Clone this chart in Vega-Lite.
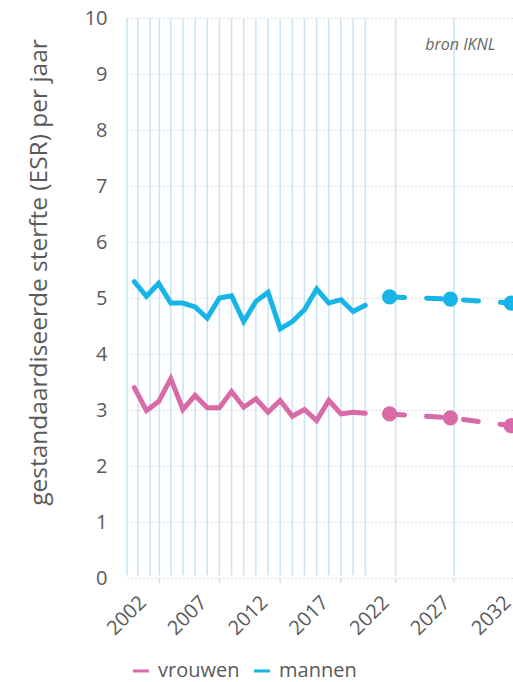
{
  "$schema": "https://vega.github.io/schema/vega-lite/v6.json",
  "width": 386,
  "height": 560,
  "autosize": {"type": "none"},
  "padding": {"left": 127, "top": 18, "right": 0, "bottom": 104},
  "background": "white",
  "config": {
    "view": {"stroke": null},
    "font": "Open Sans",
    "axis": {"labelFont": "Open Sans", "titleFont": "Open Sans", "labelColor": "#5a5a5a", "titleColor": "#5a5a5a"}
  },
  "datasets": {
    "esr": [
      {"jaar": 2001, "geslacht": "mannen", "esr": 5.29, "soort": "gemeten"},
      {"jaar": 2002, "geslacht": "mannen", "esr": 5.03, "soort": "gemeten"},
      {"jaar": 2003, "geslacht": "mannen", "esr": 5.26, "soort": "gemeten"},
      {"jaar": 2004, "geslacht": "mannen", "esr": 4.91, "soort": "gemeten"},
      {"jaar": 2005, "geslacht": "mannen", "esr": 4.91, "soort": "gemeten"},
      {"jaar": 2006, "geslacht": "mannen", "esr": 4.84, "soort": "gemeten"},
      {"jaar": 2007, "geslacht": "mannen", "esr": 4.64, "soort": "gemeten"},
      {"jaar": 2008, "geslacht": "mannen", "esr": 5.0, "soort": "gemeten"},
      {"jaar": 2009, "geslacht": "mannen", "esr": 5.04, "soort": "gemeten"},
      {"jaar": 2010, "geslacht": "mannen", "esr": 4.58, "soort": "gemeten"},
      {"jaar": 2011, "geslacht": "mannen", "esr": 4.94, "soort": "gemeten"},
      {"jaar": 2012, "geslacht": "mannen", "esr": 5.1, "soort": "gemeten"},
      {"jaar": 2013, "geslacht": "mannen", "esr": 4.45, "soort": "gemeten"},
      {"jaar": 2014, "geslacht": "mannen", "esr": 4.58, "soort": "gemeten"},
      {"jaar": 2015, "geslacht": "mannen", "esr": 4.79, "soort": "gemeten"},
      {"jaar": 2016, "geslacht": "mannen", "esr": 5.16, "soort": "gemeten"},
      {"jaar": 2017, "geslacht": "mannen", "esr": 4.91, "soort": "gemeten"},
      {"jaar": 2018, "geslacht": "mannen", "esr": 4.97, "soort": "gemeten"},
      {"jaar": 2019, "geslacht": "mannen", "esr": 4.76, "soort": "gemeten"},
      {"jaar": 2020, "geslacht": "mannen", "esr": 4.87, "soort": "gemeten"},
      {"jaar": 2022, "geslacht": "mannen", "esr": 5.02, "soort": "prognose"},
      {"jaar": 2027, "geslacht": "mannen", "esr": 4.98, "soort": "prognose"},
      {"jaar": 2032, "geslacht": "mannen", "esr": 4.91, "soort": "prognose"},
      {"jaar": 2001, "geslacht": "vrouwen", "esr": 3.4, "soort": "gemeten"},
      {"jaar": 2002, "geslacht": "vrouwen", "esr": 2.99, "soort": "gemeten"},
      {"jaar": 2003, "geslacht": "vrouwen", "esr": 3.15, "soort": "gemeten"},
      {"jaar": 2004, "geslacht": "vrouwen", "esr": 3.56, "soort": "gemeten"},
      {"jaar": 2005, "geslacht": "vrouwen", "esr": 3.01, "soort": "gemeten"},
      {"jaar": 2006, "geslacht": "vrouwen", "esr": 3.26, "soort": "gemeten"},
      {"jaar": 2007, "geslacht": "vrouwen", "esr": 3.04, "soort": "gemeten"},
      {"jaar": 2008, "geslacht": "vrouwen", "esr": 3.04, "soort": "gemeten"},
      {"jaar": 2009, "geslacht": "vrouwen", "esr": 3.33, "soort": "gemeten"},
      {"jaar": 2010, "geslacht": "vrouwen", "esr": 3.05, "soort": "gemeten"},
      {"jaar": 2011, "geslacht": "vrouwen", "esr": 3.2, "soort": "gemeten"},
      {"jaar": 2012, "geslacht": "vrouwen", "esr": 2.96, "soort": "gemeten"},
      {"jaar": 2013, "geslacht": "vrouwen", "esr": 3.17, "soort": "gemeten"},
      {"jaar": 2014, "geslacht": "vrouwen", "esr": 2.89, "soort": "gemeten"},
      {"jaar": 2015, "geslacht": "vrouwen", "esr": 3.01, "soort": "gemeten"},
      {"jaar": 2016, "geslacht": "vrouwen", "esr": 2.81, "soort": "gemeten"},
      {"jaar": 2017, "geslacht": "vrouwen", "esr": 3.17, "soort": "gemeten"},
      {"jaar": 2018, "geslacht": "vrouwen", "esr": 2.93, "soort": "gemeten"},
      {"jaar": 2019, "geslacht": "vrouwen", "esr": 2.96, "soort": "gemeten"},
      {"jaar": 2020, "geslacht": "vrouwen", "esr": 2.94, "soort": "gemeten"},
      {"jaar": 2022, "geslacht": "vrouwen", "esr": 2.93, "soort": "prognose"},
      {"jaar": 2027, "geslacht": "vrouwen", "esr": 2.86, "soort": "prognose"},
      {"jaar": 2032, "geslacht": "vrouwen", "esr": 2.72, "soort": "prognose"}
    ],
    "raster": [
      {"jaar": 2000.4, "lang": false}, {"jaar": 2001.3, "lang": false}, {"jaar": 2002.3, "lang": false},
      {"jaar": 2003.06, "lang": true}, {"jaar": 2004, "lang": false}, {"jaar": 2005, "lang": false},
      {"jaar": 2006, "lang": false}, {"jaar": 2007, "lang": false}, {"jaar": 2008, "lang": true},
      {"jaar": 2009, "lang": false}, {"jaar": 2010, "lang": false}, {"jaar": 2011, "lang": false},
      {"jaar": 2012, "lang": false}, {"jaar": 2013, "lang": true}, {"jaar": 2014, "lang": false},
      {"jaar": 2015, "lang": false}, {"jaar": 2016, "lang": false}, {"jaar": 2017, "lang": false},
      {"jaar": 2018, "lang": true}, {"jaar": 2019, "lang": false}, {"jaar": 2020, "lang": false},
      {"jaar": 2022.5, "lang": true}, {"jaar": 2027.3, "lang": true}
    ],
    "bron": [{"tekst": "bron IKNL"}]
  },
  "layer": [
    {
      "data": {"name": "raster"},
      "mark": {"type": "rule", "color": "#cbe5f6", "strokeWidth": 1.6},
      "encoding": {
        "x": {
          "field": "jaar", "type": "quantitative",
          "scale": {"domain": [2000.4, 2032.15], "nice": false, "zero": false},
          "axis": {
            "title": null, "values": [2002, 2007, 2012, 2017, 2022, 2027, 2032], "format": "d",
            "labelAngle": -45, "labelAlign": "right", "labelBaseline": "top", "labelFontSize": 20,
            "labelPadding": 14, "labelOffset": -11, "ticks": false, "domain": false, "grid": false, "labelOverlap": false, "labelBound": false, "labelFlush": false
          }
        },
        "y": {
          "datum": 0.05, "type": "quantitative",
          "scale": {"domain": [0, 10], "nice": false},
          "axis": {
            "title": "gestandaardiseerde sterfte (ESR) per jaar", "titleFontSize": 24.5, "titleFontWeight": "normal",
            "titleX": -76, "titleY": 254, "titleAngle": -90, "titleBaseline": "bottom",
            "values": [0, 1, 2, 3, 4, 5, 6, 7, 8, 9, 10], "labelFontSize": 20, "labelPadding": 20,
            "ticks": false, "domain": false, "grid": true, "gridColor": "#b8b8b8", "gridDash": [1, 3], "gridWidth": 1
          }
        },
        "y2": {"datum": 10}
      }
    },
    {
      "data": {"name": "raster"},
      "transform": [{"filter": "datum.lang"}],
      "mark": {"type": "rule", "color": "#cbe5f6", "strokeWidth": 1.6, "clip": false},
      "encoding": {
        "x": {"field": "jaar", "type": "quantitative"},
        "y": {"datum": 0, "type": "quantitative"},
        "y2": {"datum": -0.09}
      }
    },
    {
      "data": {"name": "esr"},
      "transform": [{"filter": "datum.soort === 'gemeten'"}],
      "mark": {"type": "line", "strokeWidth": 5, "strokeCap": "round", "strokeJoin": "miter", "clip": false},
      "encoding": {
        "x": {"field": "jaar", "type": "quantitative"},
        "y": {"field": "esr", "type": "quantitative"},
        "color": {
          "field": "geslacht", "type": "nominal",
          "scale": {"domain": ["vrouwen", "mannen"], "range": ["#d96aa8", "#17b4e7"]},
          "legend": {
            "title": null, "orient": "none", "direction": "horizontal", "legendX": 4, "legendY": 643,
            "symbolType": "stroke", "symbolSize": 256, "symbolStrokeWidth": 3,
            "labelFontSize": 20, "labelColor": "#5a5a5a", "labelFont": "Open Sans", "labelOffset": 7, "columnPadding": 8
          }
        }
      }
    },
    {
      "data": {"name": "esr"},
      "transform": [{"filter": "datum.soort === 'prognose'"}],
      "mark": {"type": "line", "strokeWidth": 5, "strokeCap": "round", "strokeDash": [15, 22], "clip": false},
      "encoding": {
        "x": {"field": "jaar", "type": "quantitative"},
        "y": {"field": "esr", "type": "quantitative"},
        "color": {"field": "geslacht", "type": "nominal"}
      }
    },
    {
      "data": {"name": "esr"},
      "transform": [{"filter": "datum.soort === 'prognose'"}],
      "mark": {"type": "point", "filled": true, "opacity": 1, "size": 230, "clip": false},
      "encoding": {
        "x": {"field": "jaar", "type": "quantitative"},
        "y": {"field": "esr", "type": "quantitative"},
        "color": {"field": "geslacht", "type": "nominal"}
      }
    },
    {
      "data": {"name": "bron"},
      "mark": {"type": "text", "align": "right", "baseline": "alphabetic", "fontStyle": "italic", "fontSize": 16, "font": "Open Sans", "color": "#666666"},
      "encoding": {
        "x": {"datum": 2030.7, "type": "quantitative"},
        "y": {"datum": 9.43, "type": "quantitative"},
        "text": {"field": "tekst", "type": "nominal"}
      }
    }
  ]
}
